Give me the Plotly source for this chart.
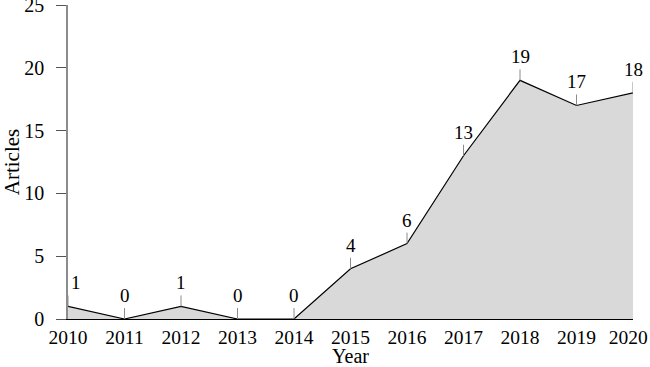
import plotly.graph_objects as go

years = [2010, 2011, 2012, 2013, 2014, 2015, 2016, 2017, 2018, 2019, 2020]
articles = [1, 0, 1, 0, 0, 4, 6, 13, 19, 17, 18]
y_ticks = [0, 5, 10, 15, 20, 25]

FONT = "Liberation Serif"

# last year label nudged left (padding) so it stays inside the page, as in the reference
x_ticktext = [str(y) for y in years]
x_ticktext[-1] = x_ticktext[-1] + "\u00a0\u00a0"

fig = go.Figure()
fig.add_trace(go.Scatter(
    x=years, y=articles, mode="lines", fill="tozeroy",
    fillcolor="#d9d9d9", line=dict(color="black", width=1.2),
    hoverinfo="skip", showlegend=False, cliponaxis=False,
))

for i, (yr, v) in enumerate(zip(years, articles)):
    fig.add_shape(type="line", xref="x", yref="y", x0=yr, x1=yr,
                  ysizemode="pixel", yanchor=v, y0=0, y1=11,
                  line=dict(color="#8c8c8c", width=1), layer="above")
    fig.add_annotation(x=yr, y=v, text=str(v), showarrow=False,
                       yanchor="bottom", yshift=11, xshift=8 if i == 0 else 0,
                       font=dict(family=FONT, size=19, color="black"))

fig.update_layout(
    width=650, height=367,
    margin=dict(l=68, r=17, t=5, b=48, autoexpand=False),
    paper_bgcolor="white", plot_bgcolor="white",
    font=dict(family=FONT, size=20, color="black"),
    xaxis=dict(range=[2010, 2020], tickvals=years, ticktext=x_ticktext,
               showgrid=False, zeroline=False, showline=True, linecolor="black",
               linewidth=1.2, ticks="", ticklabelstandoff=0, automargin=False,
               ticklabeloverflow="allow", tickfont=dict(size=19.5),
               title=dict(text="Year", font=dict(family=FONT, size=20), standoff=0)),
    yaxis=dict(range=[0, 25.0001], tickvals=y_ticks, showgrid=False, zeroline=False,
               showline=True, linecolor="#8c8c8c", linewidth=1.6, automargin=False,
               ticks="outside", ticklen=10, tickcolor="#555555", tickwidth=1.2,
               ticklabeloverflow="allow", ticklabelstandoff=8,
               title=dict(text="Articles", font=dict(family=FONT, size=21), standoff=2)),
)

fig.write_html("out.html", config={"displayModeBar": False},
               post_script="document.body.style.margin='0';document.body.style.overflow='hidden';")
